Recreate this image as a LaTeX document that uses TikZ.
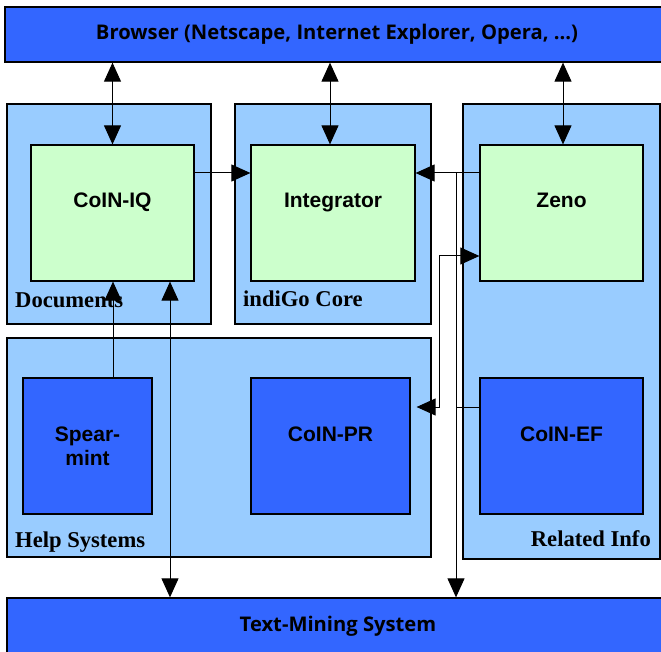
\documentclass[tikz,border=0pt]{standalone}
\usepackage{fontspec}
\setmainfont{Liberation Serif}
\setsansfont{Liberation Sans}
\newfontfamily\barfont{Open Sans}
\usetikzlibrary{arrows.meta}
\definecolor{barblue}{HTML}{3366FF}
\definecolor{paneblue}{HTML}{99CCFF}
\definecolor{leafgreen}{HTML}{CCFFCC}

\begin{document}
\begin{tikzpicture}[
    x=1pt, y=-1pt,
    bar/.style={draw,line width=1.3pt,fill=barblue,inner sep=0pt,minimum height=55pt,font=\barfont\bfseries\fontsize{20.2}{23}\selectfont},
    pane/.style={draw,line width=1.2pt,fill=paneblue,inner sep=0pt},
    comp/.style={draw,line width=1.2pt,inner sep=0pt,minimum height=136pt,font=\sffamily\bfseries\fontsize{21}{24}\selectfont},
    lifted/.style={comp,text height=14pt,text depth=24pt},
    tag/.style={inner sep=0pt,font=\rmfamily\bfseries\fontsize{22.6}{26}\selectfont},
    flow/.style={draw,line width=1pt,-{Triangle[length=19pt,width=17pt]}},
    twoway/.style={draw,line width=1pt,{Triangle[length=19pt,width=17pt]}-{Triangle[length=19pt,width=17pt]}}]
  \useasboundingbox (0,0) rectangle (661,652);
  % outer bars
  \node[bar,minimum width=664pt] (browser) at (337,34.5) {Browser (Netscape, Internet Explorer, Opera, …)};
  \node[bar,minimum width=662pt,minimum height=62pt] (textmining) at (338,629) {\raisebox{11pt}{Text-Mining System}};
  % panes
  \node[pane,minimum width=204pt,minimum height=220pt] (docs) at (109,214) {};
  \node[pane,minimum width=196pt,minimum height=220pt] (core) at (333,214) {};
  \node[pane,minimum width=197pt,minimum height=455pt] (related) at (561.5,331.5) {};
  \node[pane,minimum width=424pt,minimum height=219pt] (help) at (219,447.5) {};
  \node[tag,anchor=base west] (docstag) at (15,308) {Documents};
  \node[tag,anchor=base west] (coretag) at (243,306) {indiGo Core};
  \node[tag,anchor=base west] (helptag) at (15,547) {Help Systems};
  \node[tag,anchor=base east] (relatedtag) at (651,546) {Related Info};
  % components
  \node[lifted,fill=leafgreen,minimum width=163pt] (coiniq) at (112.5,213) {CoIN-IQ};
  \node[lifted,fill=leafgreen,minimum width=164pt] (integrator) at (333,213) {Integrator};
  \node[lifted,fill=leafgreen,minimum width=163pt] (zeno) at (561.5,213) {Zeno};
  \node[comp,fill=barblue,minimum width=129pt,align=center] (spearmint) at (87.5,446) {Spear-\\mint};
  \node[lifted,fill=barblue,minimum width=159pt] (coinpr) at (330.5,446) {CoIN-PR};
  \node[lifted,fill=barblue,minimum width=163pt] (coinef) at (561.5,446) {CoIN-EF};
  % browser links
  \draw[twoway] (coiniq.north) -- (coiniq.north |- browser.south);
  \draw[twoway] ([xshift=-3pt]integrator.north) coordinate (intup) -- (intup |- browser.south);
  \draw[twoway] ([xshift=1.5pt]zeno.north) coordinate (zenoup) -- (zenoup |- browser.south);
  % core links
  \draw[flow] ([yshift=40pt]coiniq.east) -- ([yshift=40pt]integrator.west);
  \draw[flow] ([yshift=40pt]zeno.west) -- ([yshift=40pt]integrator.east);
  \coordinate (split) at (456,173);
  \draw[flow] (split) -- (split |- textmining.north);
  \draw ([yshift=39pt]coinef.west) -- ([yshift=39pt]coinef.west -| split);
  \draw[twoway,shorten <=6pt] ([yshift=39pt]coinpr.east) -- ++(29,0) |- ([yshift=-43pt]zeno.west);
  % lower links
  \coordinate (spearup) at ([xshift=25.5pt]spearmint.north);
  \draw[flow] (spearup) -- (spearup |- coiniq.south);
  \coordinate (dock) at ([xshift=57.5pt]coiniq.south);
  \draw[twoway] (dock) -- (dock |- textmining.north);
\end{tikzpicture}
\end{document}
